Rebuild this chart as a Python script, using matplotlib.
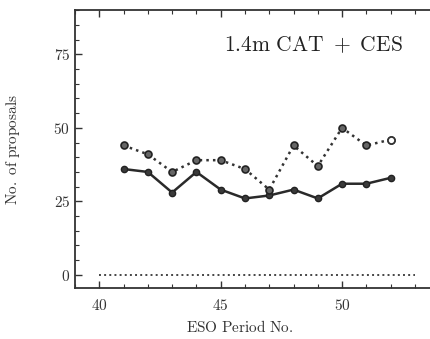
import matplotlib
matplotlib.use('Agg')
import matplotlib.pyplot as plt
from matplotlib.ticker import MultipleLocator, FuncFormatter

plt.rcParams['mathtext.fontset'] = 'cm'
plt.rcParams['font.family'] = 'serif'
plt.rcParams['font.serif'] = ['DejaVu Serif']

# ESO periods and proposal counts
periods = [41, 42, 43, 44, 45, 46, 47, 48, 49, 50, 51, 52]
accepted = [36, 35, 28, 35, 29, 26, 27, 29, 26, 31, 31, 33]
submitted = [44, 41, 35, 39, 39, 36, 29, 44, 37, 50, 44, 46]
zero_x = [40, 53]
zero_y = [0, 0]

fig = plt.figure(figsize=(4.31, 3.39), dpi=100)
ax = fig.add_axes([0.174, 0.150, 0.845, 0.820])

ax.plot(periods, accepted, '-', color='#2a2a2a', lw=1.8,
        marker='o', ms=4.5, mfc='#3a3a3a', mec='#222222')
ax.plot(periods, submitted, ':', color='#333333', lw=1.8,
        marker='o', ms=5, mfc='#666666', mec='#222222', mew=1.2)
ax.plot(periods[-1:], submitted[-1:], 'o', ms=5, mfc='white', mec='#333333', mew=1.2)
ax.plot(zero_x, zero_y, ':', color='#444444', lw=1.4)

ax.set_xlim(39, 54)
ax.set_ylim(-4.5, 90)
ax.xaxis.set_major_locator(MultipleLocator(5))
ax.xaxis.set_minor_locator(MultipleLocator(1))
ax.yaxis.set_major_locator(MultipleLocator(25))
ax.yaxis.set_minor_locator(MultipleLocator(5))
fmt = FuncFormatter(lambda v, p: r'$\mathrm{%d}$' % v)
ax.xaxis.set_major_formatter(fmt)
ax.yaxis.set_major_formatter(fmt)
ax.tick_params(which='both', direction='in', top=True, right=True,
               labelsize=11, colors='#333333')
ax.tick_params(which='major', length=5, width=1)
ax.tick_params(which='minor', length=3, width=0.8)
ax.tick_params(axis='x', pad=7)
for s in ax.spines.values():
    s.set_linewidth(1.3)
    s.set_color('#333333')

ax.set_xlabel(r'$\mathrm{ESO\ Period\ No.}$', fontsize=11, color='#333333')
ax.xaxis.set_label_coords(0.453, -0.112)
ax.set_ylabel(r'$\mathrm{No.\ of\ proposals}$', fontsize=11, color='#333333')
ax.yaxis.set_label_coords(-0.145, 0.5)

ax.text(0.90, 0.874, r'$\mathrm{1.4m\ CAT\ +\ CES}$', transform=ax.transAxes,
        fontsize=15.5, ha='right', va='center', color='#222222')

fig.savefig('out.png', dpi=100)
